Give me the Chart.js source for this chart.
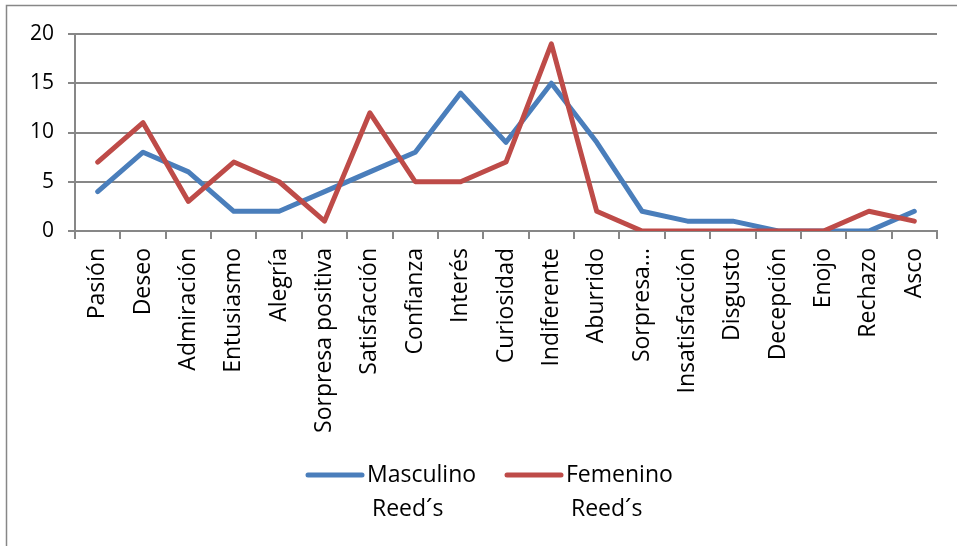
<!DOCTYPE html>
<html>
<head>
<meta charset="utf-8">
<script src="https://cdn.jsdelivr.net/npm/chart.js@4"></script>
<style>
  html, body { margin: 0; padding: 0; background: #fff; }
  #wrap { position: relative; width: 957px; height: 546px; }
</style>
</head>
<body>
<div id="wrap"><canvas id="emotion-chart"></canvas></div>
<script>
const categories = [
  "Pasión", "Deseo", "Admiración", "Entusiasmo", "Alegría", "Sorpresa positiva",
  "Satisfacción", "Confianza", "Interés", "Curiosidad", "Indiferente", "Aburrido",
  "Sorpresa...", "Insatisfacción", "Disgusto", "Decepción", "Enojo", "Rechazo", "Asco",
];
const masculino = [4, 8, 6, 2, 2, 4, 6, 8, 14, 9, 15, 9, 2, 1, 1, 0, 0, 0, 2];
const femenino = [7, 11, 3, 7, 5, 1, 12, 5, 5, 7, 19, 2, 0, 0, 0, 0, 0, 2, 1];
const seriesNames = [["Masculino", "Reed´s"], ["Femenino", "Reed´s"]];
const yTicks = [0, 5, 10, 15, 20];

const gridColor = "#878787";
const fontFamily = "'Open Sans', 'DejaVu Sans', sans-serif";
const fontSize = 23;

// frame around the whole chart
const framePlugin = {
  id: "frame",
  beforeDraw(chart) {
    const ctx = chart.ctx;
    ctx.save();
    ctx.fillStyle = "#fff";
    ctx.fillRect(0, 0, chart.width, chart.height);
    ctx.strokeStyle = gridColor;
    ctx.lineWidth = 1.5;
    ctx.strokeRect(6.5, 5.5, chart.width + 20, chart.height + 20);
    ctx.restore();
  },
};

// legend under the plot, names wrapped onto two lines
const legendPlugin = {
  id: "wrapLegend",
  afterDraw(chart) {
    const ctx = chart.ctx;
    const starts = [308, 507];
    ctx.save();
    ctx.font = `${fontSize}px ${fontFamily}`;
    ctx.textBaseline = "middle";
    ctx.textAlign = "left";
    chart.data.datasets.forEach((ds, i) => {
      const x = starts[i];
      const y = 475;
      ctx.strokeStyle = ds.borderColor;
      ctx.lineWidth = 5;
      ctx.lineCap = "round";
      ctx.beginPath();
      ctx.moveTo(x, y);
      ctx.lineTo(x + 54, y);
      ctx.stroke();
      ctx.fillStyle = "#000";
      ds.legendLines.forEach((line, j) => {
        ctx.fillText(line, x + 59 + (j ? 5 : 0), y + j * 34);
      });
    });
    ctx.restore();
  },
};

new Chart(document.getElementById("emotion-chart"), {
  type: "line",
  data: {
    labels: categories,
    datasets: [
      {
        label: seriesNames[0].join(" "),
        legendLines: seriesNames[0],
        data: masculino,
        borderColor: "#4A7EBB",
        backgroundColor: "#4A7EBB",
        borderWidth: 5,
        order: 2,
      },
      {
        label: seriesNames[1].join(" "),
        legendLines: seriesNames[1],
        data: femenino,
        borderColor: "#BE4B48",
        backgroundColor: "#BE4B48",
        borderWidth: 5,
        order: 1,
      },
    ],
  },
  options: {
    responsive: true,
    maintainAspectRatio: false,
    animation: false,
    layout: { padding: { top: 34, right: 20, left: 0, bottom: 0 } },
    elements: {
      point: { radius: 0, hoverRadius: 0 },
      line: { tension: 0, borderJoinStyle: "round", borderCapStyle: "round" },
    },
    scales: {
      x: {
        offset: true,
        grid: {
          offset: true,
          drawOnChartArea: false,
          tickLength: 8,
          color: gridColor,
          lineWidth: 2,
        },
        border: { color: gridColor, width: 2 },
        ticks: {
          autoSkip: false,
          minRotation: 90,
          maxRotation: 90,
          padding: 9,
          color: "#000",
          font: { family: fontFamily, size: fontSize },
        },
        afterFit: (axis) => {
          axis.height = 546 - 231;
        },
      },
      y: {
        min: 0,
        max: 20,
        afterBuildTicks: (axis) => {
          axis.ticks = yTicks.map((v) => ({ value: v }));
        },
        grid: { color: gridColor, lineWidth: 2, tickLength: 7 },
        border: { color: gridColor, width: 2 },
        ticks: {
          padding: 14,
          color: "#000",
          font: { family: fontFamily, size: 21 },
        },
        afterFit: (axis) => {
          axis.width = 75;
        },
      },
    },
    plugins: {
      legend: { display: false },
      tooltip: { enabled: false },
    },
  },
  plugins: [framePlugin, legendPlugin],
});
</script>
</body>
</html>
